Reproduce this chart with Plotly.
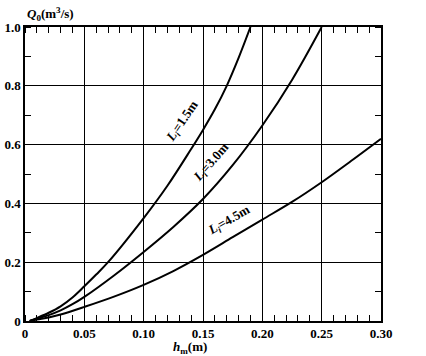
import plotly.graph_objects as go

h_15 = [0.004, 0.01, 0.02, 0.03, 0.04, 0.05, 0.06, 0.07, 0.10, 0.12, 0.14, 0.15, 0.16, 0.17, 0.18, 0.19]
q_15 = [0.0, 0.01, 0.028, 0.05, 0.08, 0.118, 0.158, 0.20, 0.35, 0.46, 0.585, 0.65, 0.72, 0.80, 0.895, 1.0]

h_30 = [0.004, 0.01, 0.02, 0.03, 0.04, 0.05, 0.075, 0.10, 0.125, 0.15, 0.175, 0.20, 0.225, 0.25]
q_30 = [0.0, 0.008, 0.02, 0.036, 0.057, 0.082, 0.155, 0.235, 0.32, 0.415, 0.53, 0.665, 0.82, 1.0]

h_45 = [0.004, 0.01, 0.02, 0.03, 0.05, 0.075, 0.10, 0.125, 0.15, 0.175, 0.20, 0.225, 0.25, 0.275, 0.30]
q_45 = [0.0, 0.005, 0.012, 0.022, 0.048, 0.083, 0.123, 0.17, 0.225, 0.285, 0.345, 0.405, 0.472, 0.545, 0.62]

x_ticks = [0, 0.05, 0.10, 0.15, 0.20, 0.25, 0.30]
x_labels = ["0", "0.05", "0.10", "0.15", "0.20", "0.25", "0.30"]
y_ticks = [0, 0.2, 0.4, 0.6, 0.8, 1.0]
y_labels = ["0", "0.2", "0.4", "0.6", "0.8", "1.0"]

curve_names = ["L<sub>i</sub>", "L<sub>i</sub>", "L<sub>i</sub>"]
curve_values = ["1.5m", "3.0m", "4.5m"]
label_pos = [(0.1325, 0.68, -56), (0.157, 0.54, -49), (0.172, 0.342, -30)]

FONT = "Liberation Serif"

fig = go.Figure()
for hs, qs in [(h_15, q_15), (h_30, q_30), (h_45, q_45)]:
    fig.add_trace(go.Scatter(x=hs, y=qs, mode="lines",
                             line=dict(color="black", width=2, shape="spline", smoothing=1.0),
                             showlegend=False, hoverinfo="skip"))

for name, val, (x, y, ang) in zip(curve_names, curve_values, label_pos):
    fig.add_annotation(x=x, y=y, text="<b><i>" + name + "</i>=" + val + "</b>",
                       showarrow=False, textangle=ang, font=dict(family=FONT, size=13, color="black"))

fig.add_annotation(xref="paper", yref="paper", x=0.0, y=1.0, yshift=13, xanchor="left", yanchor="middle",
                   text="<b><i>Q</i><sub>0</sub>(m<sup>3</sup>/s)</b>", showarrow=False,
                   font=dict(family=FONT, size=13, color="black"))
fig.add_annotation(xref="x", yref="paper", x=0.139, y=0, yshift=-26, xanchor="center", yanchor="middle",
                   text="<b><i>h</i><sub>m</sub>(m)</b>", showarrow=False,
                   font=dict(family=FONT, size=13, color="black"))

common = dict(showgrid=True, gridcolor="black", gridwidth=1.3, showline=True, linecolor="black", linewidth=1.5,
              mirror="allticks", ticks="", zeroline=False, fixedrange=True, automargin=False,
              tickfont=dict(family=FONT, size=13, color="black", weight="bold"))
fig.update_xaxes(range=[0, 0.30], tickvals=x_ticks, ticktext=x_labels,
                 minor=dict(dtick=0.01, ticks="inside", ticklen=6, tickcolor="black", tickwidth=1.2, showgrid=False),
                 **common)
fig.update_yaxes(range=[0, 1.0], tickvals=y_ticks, ticktext=y_labels,
                 minor=dict(dtick=0.1, ticks="inside", ticklen=6, tickcolor="black", tickwidth=1.2, showgrid=False),
                 **common)

fig.update_layout(width=426, height=356, margin=dict(l=25, r=45, t=27, b=35),
                  plot_bgcolor="white", paper_bgcolor="white")
fig.write_html("out.html", config={"displayModeBar": False},
               post_script="document.body.style.margin='0';document.body.style.overflow='hidden';")
